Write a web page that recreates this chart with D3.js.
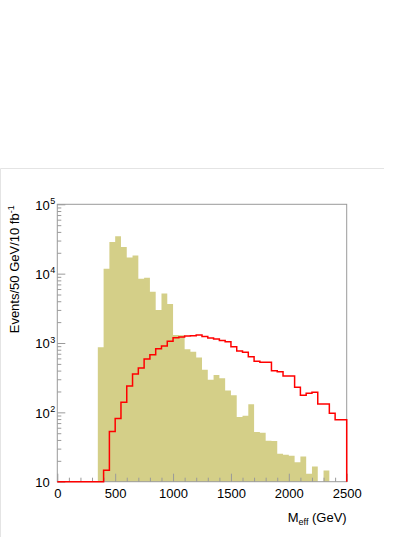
<!DOCTYPE html>
<html>
<head>
<meta charset="utf-8">
<script src="https://cdn.jsdelivr.net/npm/d3@7"></script>
<style>
  html, body { margin: 0; padding: 0; background: #fff; }
  svg { display: block; font-family: "Liberation Sans", Arial, Helvetica, sans-serif; }
</style>
</head>
<body>
<div id="chart"></div>
<script>
// 50 GeV bins, 0 .. 2500 GeV
const binWidth = 50;
const binStarts = d3.range(0, 2500, binWidth);

// background (filled khaki histogram), events per bin; 0 = empty bin
const background = [
  0, 0, 0, 0, 0, 0, 0, 870, 11800, 28700,
  34600, 24300, 17100, 18300, 8450, 8760, 5500, 2990, 5190, 3640,
  1300, 1290, 810, 750, 620, 410, 295, 345, 310, 206,
  177, 86, 89, 131, 52, 51, 39, 38.5, 25.3, 24.4,
  23.6, 19, 23.1, 13, 16.6, 0, 14.5, 0, 0, 0
];

// signal (red outline histogram)
const signal = [
  0, 0, 0, 0, 0, 0, 0, 0, 14.6, 53,
  81.5, 140, 240, 358, 437, 589, 679, 828, 906, 1060,
  1190, 1220, 1260, 1270, 1300, 1240, 1180, 1140, 1090, 1040,
  885, 767, 735, 635, 546, 527, 527, 399, 386, 335,
  335, 230, 177, 189, 195, 132, 132, 97, 78, 78
];

const xMajor = [0, 500, 1000, 1500, 2000, 2500];
const xMinor = d3.range(0, 2501, 100).filter(v => v % 500 !== 0);
const yMajor = [10, 100, 1000, 10000, 100000];
const yMinor = d3.range(1, 5).flatMap(k => d3.range(2, 10).map(m => m * Math.pow(10, k)));

const W = 415, H = 537;
const frame = { left: 57.3, right: 346.7, top: 204.3, bottom: 481.7 };

const svg = d3.select("#chart").append("svg")
  .attr("width", W)
  .attr("height", H);

svg.append("rect").attr("width", W).attr("height", H).attr("fill", "#fff");

// faint page edge
svg.append("path")
  .attr("d", `M0.5,${H} V168.5 H384`)
  .attr("fill", "none")
  .attr("stroke", "#e4e4e4")
  .attr("stroke-width", 1);

const x = d3.scaleLinear().domain([0, 2500]).range([frame.left, frame.right]);
const y = d3.scaleLog().domain([10, 1e5]).range([frame.bottom, frame.top]).clamp(true);

// background histogram as one filled step area (no seams between bins)
const bgPts = binStarts.map((b, i) => [b, Math.max(background[i], 10)]);
bgPts.push([2500, 10]);
svg.append("path")
  .datum(bgPts)
  .attr("fill", "#d4cf88")
  .attr("d", d3.area()
    .x(d => x(d[0]))
    .y0(y(10))
    .y1(d => y(d[1]))
    .curve(d3.curveStepAfter));

// frame
svg.append("rect")
  .attr("x", frame.left)
  .attr("y", frame.top)
  .attr("width", frame.right - frame.left)
  .attr("height", frame.bottom - frame.top)
  .attr("fill", "none")
  .attr("stroke", "#9a9a9a");

// x axis: major + minor ticks pointing inward
const xAxis = svg.append("g")
  .attr("transform", `translate(0,${frame.bottom})`)
  .call(d3.axisBottom(x).tickValues(xMajor).tickSizeInner(-8).tickSizeOuter(0).tickPadding(7).tickFormat(d3.format("d")));
xAxis.select(".domain").remove();
xAxis.selectAll("line").attr("stroke", "#9a9a9a");
xAxis.selectAll("text").attr("fill", "#000").style("font-size", "13px");

const xAxisMinor = svg.append("g")
  .attr("transform", `translate(0,${frame.bottom})`)
  .call(d3.axisBottom(x).tickValues(xMinor).tickSizeInner(-4).tickSizeOuter(0).tickFormat(""));
xAxisMinor.select(".domain").remove();
xAxisMinor.selectAll("line").attr("stroke", "#9a9a9a");

// y axis: log decades with superscript labels
const yAxis = svg.append("g")
  .attr("transform", `translate(${frame.left},0)`)
  .call(d3.axisLeft(y).tickValues(yMajor).tickSizeInner(-8).tickSizeOuter(0).tickFormat(""));
yAxis.select(".domain").remove();
yAxis.selectAll("line").attr("stroke", "#9a9a9a");
yAxis.selectAll(".tick").each(function(d) {
  const g = d3.select(this);
  g.select("text").remove();
  const p = Math.round(Math.log10(d));
  g.append("text")
    .attr("x", -7.5)
    .attr("y", 4.7)
    .attr("text-anchor", "end")
    .attr("fill", "#000")
    .style("font-size", "13px")
    .text("10");
  if (p !== 1) {
    g.append("text")
      .attr("x", -7)
      .attr("y", -1)
      .attr("text-anchor", "start")
      .attr("fill", "#000")
      .style("font-size", "9px")
      .text(p);
  }
});

const yAxisMinor = svg.append("g")
  .attr("transform", `translate(${frame.left},0)`)
  .call(d3.axisLeft(y).tickValues(yMinor).tickSizeInner(-4).tickSizeOuter(0).tickFormat(""));
yAxisMinor.select(".domain").remove();
yAxisMinor.selectAll("line").attr("stroke", "#9a9a9a");

// signal outline
const pts = binStarts.map((b, i) => [b, Math.max(signal[i], 10)]);
pts.push([2500, Math.max(signal[signal.length - 1], 10)]);
pts.push([2500, 10]);
svg.append("path")
  .datum(pts)
  .attr("fill", "none")
  .attr("stroke", "#ff0000")
  .attr("stroke-width", 1.5)
  .attr("d", d3.line().x(d => x(d[0])).y(d => y(d[1])).curve(d3.curveStepAfter));

// axis titles
const xTitle = svg.append("text")
  .attr("x", frame.right)
  .attr("y", 521.5)
  .attr("text-anchor", "end")
  .attr("fill", "#000")
  .style("font-size", "13px");
xTitle.append("tspan").text("M");
xTitle.append("tspan").attr("dy", 3).style("font-size", "9px").text("eff");
xTitle.append("tspan").attr("dy", -3).text(" (GeV)");

const yTitle = svg.append("text")
  .attr("transform", `translate(19,${frame.top + 1}) rotate(-90)`)
  .attr("text-anchor", "end")
  .attr("fill", "#000")
  .style("font-size", "13px");
yTitle.append("tspan").text("Events/50 GeV/10 fb");
yTitle.append("tspan").attr("dy", -5).style("font-size", "9px").text("-1");
</script>
</body>
</html>
